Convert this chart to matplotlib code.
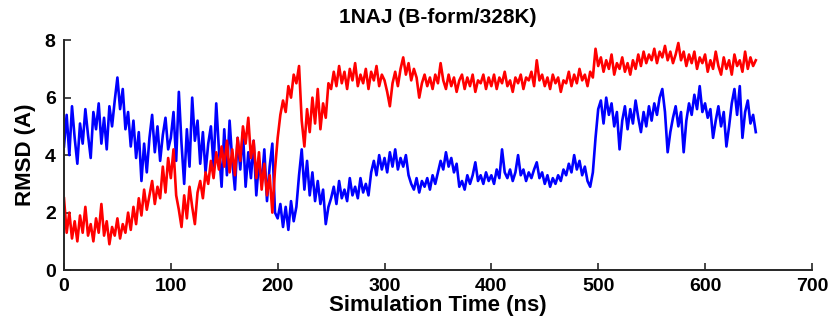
import numpy as np
import matplotlib.pyplot as plt

# RMSD traces, one value every 2.5 ns (0 - 647.5 ns)
step_ns = 2.5

rmsd_blue = [
    4.3, 5.4, 4.0, 5.7, 4.6, 3.7, 5.1, 4.4, 5.6, 4.7, 3.9, 5.5, 4.9, 5.8, 4.4, 5.3, 4.2, 5.7, 5.0, 5.9,
    6.7, 5.6, 6.3, 4.9, 5.5, 4.3, 5.2, 3.9, 4.8, 3.1, 4.4, 3.4, 4.6, 5.4, 4.1, 5.0, 3.8, 4.7, 5.3, 4.2,
    4.6, 5.5, 3.8, 6.2, 4.4, 3.0, 4.9, 3.6, 6.0, 4.5, 5.2, 3.7, 4.8, 3.4, 4.4, 5.0, 3.6, 5.8, 4.2, 2.9,
    4.9, 3.3, 5.2, 3.8, 2.8, 4.6, 3.5, 4.8, 2.9, 4.1, 3.2, 4.5, 2.6, 3.8, 3.0, 4.2, 2.4, 3.6, 4.4, 2.0,
    1.8, 2.3, 1.5, 2.2, 1.4, 2.4, 1.7, 2.2, 3.3, 4.2, 2.8, 3.8, 2.6, 3.4, 2.4, 3.1, 2.3, 2.8, 1.6, 2.2,
    2.5, 2.9, 2.3, 3.1, 2.5, 2.8, 2.4, 3.2, 2.6, 2.9, 2.5, 3.2, 2.7, 3.0, 2.6, 3.4, 3.8, 3.3, 4.0, 3.5,
    3.9, 3.4, 4.1, 3.6, 4.2, 3.5, 3.9, 3.6, 4.0, 3.3, 3.0, 2.8, 3.2, 2.7, 3.1, 2.9, 3.2, 2.8, 3.3, 3.0,
    3.4, 3.8, 3.5, 4.1, 3.6, 3.9, 3.4, 3.7, 2.9, 3.1, 2.8, 3.3, 3.0, 3.3, 3.75, 3.1, 3.3, 3.0, 3.4, 3.1,
    3.3, 3.0, 3.5, 3.2, 4.2, 3.4, 3.2, 3.5, 3.1, 3.4, 4.0, 3.3, 3.5, 3.1, 3.4, 3.2, 3.5, 3.75, 3.2, 3.4,
    3.0, 3.3, 2.9, 3.2, 3.0, 3.3, 3.1, 3.5, 3.3, 3.7, 3.4, 4.0, 3.5, 3.8, 3.3, 3.6, 3.1, 2.9, 3.4, 4.6,
    5.6, 5.9, 5.1, 6.0, 5.4, 5.8, 5.0, 5.5, 4.2, 5.2, 5.7, 4.9, 5.6, 5.1, 5.9, 5.3, 4.8, 5.5, 5.0, 5.7,
    5.2, 5.8, 5.4, 6.0, 6.3, 5.5, 4.1, 4.8, 5.3, 5.7, 5.0, 5.5, 4.1, 5.2, 5.8, 5.4, 6.1, 5.6, 6.4, 5.5,
    5.8, 5.3, 5.6, 4.6, 5.2, 5.7, 5.0, 5.5, 4.3, 5.0, 5.8, 6.3, 5.4, 6.4, 4.6, 5.5, 5.9, 5.1, 5.4, 4.8,
]

rmsd_red = [
    2.5, 1.3, 2.0, 1.1, 1.7, 1.0, 1.9, 1.3, 2.2, 1.2, 1.6, 1.0, 1.8, 1.3, 2.3, 1.2, 1.7, 0.9, 1.5, 1.2,
    1.8, 1.1, 1.6, 1.3, 2.0, 1.4, 2.2, 1.6, 2.5, 1.9, 2.8, 2.1, 2.6, 3.1, 2.3, 2.9, 2.5, 3.6, 2.7, 3.9,
    3.2, 4.2, 2.6, 2.1, 1.5, 2.6, 1.8, 2.9, 2.2, 1.6, 2.7, 3.1, 2.5, 3.4, 3.0, 3.8, 3.2, 4.1, 3.5, 4.3,
    3.6, 4.5, 3.4, 4.2, 3.3, 4.6, 3.8, 5.0, 4.4, 5.3, 3.9, 4.5, 3.2, 4.1, 2.8, 3.7, 2.6, 3.3, 2.0, 3.5,
    4.6, 5.4, 5.9, 5.5, 6.4, 6.0, 6.8, 6.5, 7.1, 5.2, 4.3, 5.6, 4.8, 6.0, 5.1, 6.3, 4.9, 5.8, 5.3, 6.5,
    6.3, 6.9, 6.4, 7.1, 6.5, 6.9, 6.3, 7.0, 6.6, 7.2, 6.4, 6.8, 6.5, 7.0, 6.3, 6.9, 6.6, 7.1, 6.4, 6.8,
    6.6, 6.2, 5.7, 6.5, 6.9, 6.4, 7.0, 7.4, 6.8, 7.2, 6.6, 7.0, 6.7, 6.0, 6.5, 6.8, 6.4, 6.7, 6.3, 6.8,
    6.5, 7.2, 6.6, 6.3, 6.8, 6.4, 6.7, 6.2, 6.6, 6.8, 6.3, 6.7, 6.4, 6.8, 6.2, 6.6, 6.5, 6.8, 6.3, 6.7,
    6.4, 6.8, 6.3, 6.7, 6.5, 6.9, 6.4, 6.6, 6.2, 6.7, 6.5, 6.8, 6.3, 6.7, 6.6, 6.9, 6.4, 7.3, 6.6, 6.8,
    6.4, 6.7, 6.3, 6.8, 6.5, 6.7, 6.2, 6.6, 6.5, 6.9, 6.4, 6.8, 6.5, 7.0, 6.6, 6.8, 6.4, 6.9, 6.7, 7.7,
    7.1, 7.4, 6.9, 7.3, 7.0, 7.5, 6.8, 7.2, 7.0, 7.4, 6.9, 7.2, 6.8, 7.3, 7.0, 7.5, 7.1, 7.6, 7.2, 7.5,
    7.3, 7.7, 7.2, 7.6, 7.4, 7.8, 7.3, 7.6, 7.2, 7.5, 7.9, 7.3, 7.6, 7.1, 7.5, 7.2, 7.6, 7.0, 7.4, 7.2,
    7.5, 6.9, 7.3, 7.0, 7.6, 7.1, 6.8, 7.4, 7.0, 7.3, 6.8, 7.5, 7.1, 7.3, 6.9, 7.6, 7.0, 7.4, 7.1, 7.3,
]

time_ns = np.arange(len(rmsd_blue)) * step_ns

x_ticks = [0, 100, 200, 300, 400, 500, 600, 700]
y_ticks = [0, 2, 4, 6, 8]

plt.rcParams['font.family'] = ['Liberation Sans Narrow', 'Liberation Sans', 'DejaVu Sans']
plt.rcParams['font.weight'] = 'bold'

fig = plt.figure(figsize=(8.31, 3.29), dpi=100)
ax = fig.add_axes([0.077, 0.179, 0.900, 0.699])

ax.plot(time_ns, rmsd_blue, color='#0000ff', linewidth=1.9)
ax.plot(time_ns, rmsd_red, color='#ff0000', linewidth=1.9)

ax.set_xlim(0, 700)
ax.set_ylim(0, 8)
ax.set_xticks(x_ticks)
ax.set_yticks(y_ticks)
ax.tick_params(direction='in', length=5, width=1.2, labelsize=14, colors='#262626', pad=6)
for lbl in ax.get_xticklabels() + ax.get_yticklabels():
    lbl.set_fontweight('bold')
    lbl.set_color('black')

ax.spines['top'].set_visible(False)
ax.spines['right'].set_visible(False)
for side in ['left', 'bottom']:
    ax.spines[side].set_linewidth(1.4)
    ax.spines[side].set_color('#262626')

ax.set_xlabel('Simulation Time (ns)', fontsize=16, fontweight='bold', labelpad=0)
ax.set_ylabel('RMSD (A)', fontsize=16, fontweight='bold', labelpad=6)
ax.set_title('1NAJ (B-form/328K)', fontsize=15, fontweight='bold', pad=12)

fig.savefig('out.png', dpi=100)
